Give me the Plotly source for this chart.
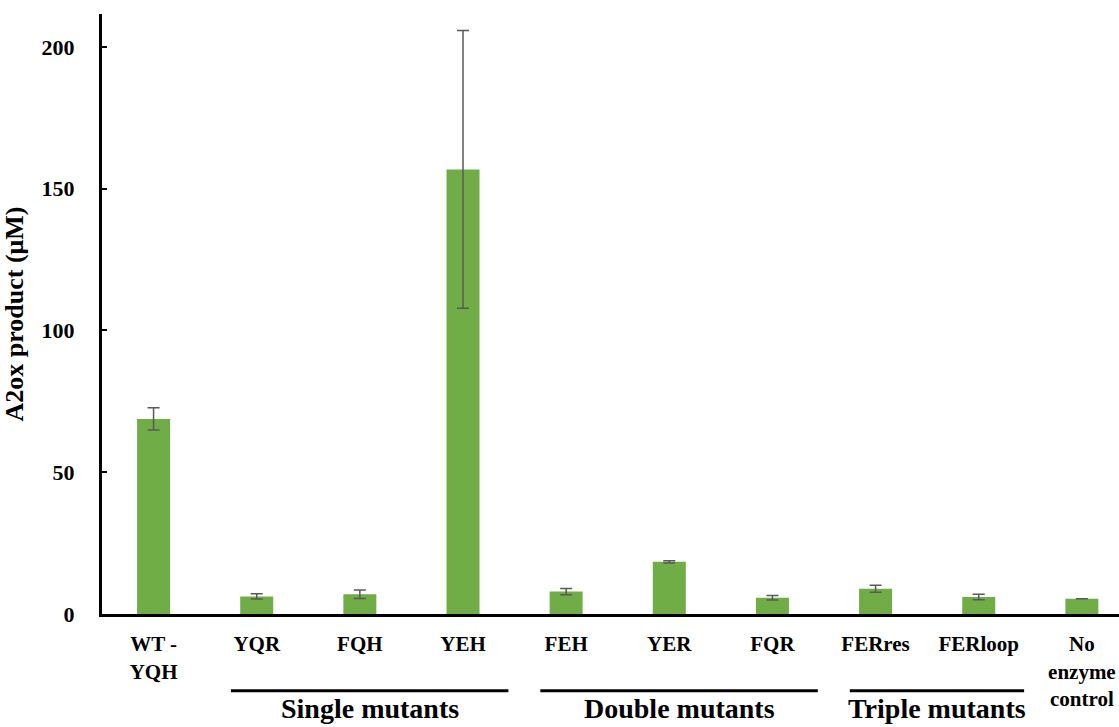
import plotly.graph_objects as go

# A2ox product formed by each enzyme variant
categories = ["WT -<br>YQH", "YQR", "FQH", "YEH", "FEH", "YER", "FQR",
              "FERres", "FERloop", "No<br>enzyme<br>control"]
product_um = [68.8, 6.2, 7.0, 156.8, 7.9, 18.4, 5.7, 8.9, 6.0, 5.4]
error_um = [3.9, 0.9, 1.5, 49.0, 1.1, 0.4, 0.8, 1.2, 1.0, 0.0]

# Mutant groups: (label, first index, last index)
groups = [("Single mutants", 1, 3), ("Double mutants", 4, 6), ("Triple mutants", 7, 8)]

y_ticks = [0, 50, 100, 150, 200]

FONT = "Liberation Serif"
BAR_COLOR = "#70AD47"

fig = go.Figure()
fig.add_trace(go.Bar(
    x=list(range(len(categories))),
    y=product_um,
    marker=dict(color=BAR_COLOR, line=dict(width=0)),
    error_y=dict(type="data", array=error_um, visible=True,
                 color="#595959", thickness=1.5, width=6),
    width=0.32,
))

shapes = []
annotations = []
for label, i0, i1 in groups:
    x0, x1 = i0 - 0.25, i1 + 0.44
    shapes.append(dict(type="line", xref="x", yref="paper",
                       x0=x0, x1=x1, y0=-0.128, y1=-0.128,
                       line=dict(color="black", width=3)))
    annotations.append(dict(text=f"<b>{label}</b>", xref="x", yref="paper",
                            x=(x0 + x1) / 2, y=-0.187, yanchor="bottom",
                            showarrow=False,
                            font=dict(family=FONT, size=28, color="black")))

fig.update_layout(
    width=1119, height=727,
    margin=dict(l=102, r=0, t=14, b=113),
    plot_bgcolor="white", paper_bgcolor="white",
    showlegend=False,
    font=dict(family=FONT, color="black"),
    shapes=shapes,
    annotations=annotations,
    xaxis=dict(
        range=[-0.5, 9.36],
        tickmode="array",
        tickvals=list(range(len(categories))),
        ticktext=[f"<b>{c}</b>" for c in categories],
        tickfont=dict(family=FONT, size=21, color="black"),
        ticklabelstandoff=9,
        showline=True, linecolor="black", linewidth=3,
        ticks="", showgrid=False, zeroline=False,
    ),
    yaxis=dict(
        range=[0, 211.6],
        tickmode="array",
        tickvals=y_ticks,
        ticktext=[f"<b>{t}</b>" for t in y_ticks],
        tickfont=dict(family=FONT, size=22, color="black"),
        ticks="inside", ticklen=5, tickwidth=2, tickcolor="black",
        ticklabelstandoff=20,
        showline=True, linecolor="black", linewidth=3,
        showgrid=False, zeroline=False,
        title=dict(text="<b>A2ox product (μM)</b>",
                   font=dict(family=FONT, size=26, color="black"),
                   standoff=14),
    ),
)

fig.write_html("out.html")
